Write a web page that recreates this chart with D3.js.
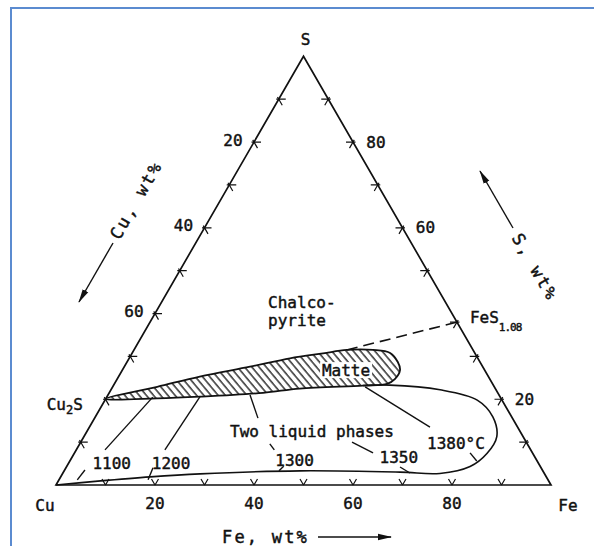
<!DOCTYPE html>
<html>
<head>
<meta charset="utf-8">
<script src="https://cdn.jsdelivr.net/npm/d3@7"></script>
<style>
  html, body { margin: 0; padding: 0; background: #fff; }
  svg { display: block; }
</style>
</head>
<body>
<div id="showBox"></div>
<script>
// all ternary points are [Fe wt%, S wt%], Cu is the remainder
const gridTicks = [10, 20, 30, 40, 50, 60, 70, 80, 90];
const feLabels = [20, 40, 60, 80];
const cuLabels = [20, 40, 60];
const sLabels = [20, 60, 80];
const sTicks = [10, 20, 30, 50, 60, 70, 80, 90];

const cu2s = [0, 20.1];
const feS108 = [62, 38];

// hatched matte field, clockwise from Cu2S
const matte = [
    [0, 20.1], [9, 22.9], [16.4, 25.3], [25.4, 27.6], [32.5, 29.55], [38.6, 30.7],
    [43, 31.5], [48.3, 31.5], [52.1, 30.8], [54.7, 28.7], [56.1, 26.8], [56.1, 24.7],
    [55.1, 23.6], [50.4, 23.2], [38, 22.5], [31.1, 21.5], [18.8, 20.6], [10.3, 20.2]
];

// two liquid loop, from matte bottom round to Cu corner
const twoLiquid = [
    [50.4, 23.2], [55.8, 23.3], [66.5, 22.2], [75.2, 19.8], [80.3, 15.9], [83.4, 11.3],
    [83.4, 7.4], [81.5, 4.3], [76.2, 2.7], [68, 3.0], [47.7, 3.3], [27.8, 2.6],
    [18.1, 1.9], [8, 0.9], [0, 0]
];

const tieLine = [[43, 31.5], feS108];

const leaders = [
    [[9.3, 20.5], [5.8, 8.2]],
    [[3.7, 1.2], [4.1, 3.5]],
    [[18.8, 20.6], [17.9, 8.2]],
    [[18.0, 1.2], [17.6, 4.0]],
    [[28.7, 21.0], [33.0, 15.6]],
    [[38.4, 9.6], [40.0, 8.2]],
    [[43.4, 3.3], [43.8, 4.4]],
    [[54.8, 10.0], [60.3, 7.5]],
    [[67.4, 4.2], [70.1, 2.8]],
    [[51.0, 22.9], [68.8, 13.5]],
    [[79.9, 7.5], [82.2, 5.6]]
];

const fieldLabels = [
    {text: "1100", at: [8.7, 5.1], anchor: "middle"},
    {text: "1200", at: [20.7, 5.1], anchor: "middle"},
    {text: "1300", at: [45.3, 5.8], anchor: "middle"},
    {text: "1350", at: [66.0, 6.5], anchor: "middle"},
    {text: "1380°C", at: [75.9, 9.8], anchor: "middle"},
    {text: "Two liquid phases", at: [45.5, 12.4], anchor: "middle"},
    {text: "Chalco-", at: [21.5, 42.7], anchor: "start"},
    {text: "pyrite", at: [23.6, 38.5], anchor: "start"}
];
const matteLabel = {text: "Matte", at: [45.2, 26.8]};

const W = 594, H = 546;
const CU_X = 56, FE_X = 551, BASE_Y = 485;
const TRI_H = (FE_X - CU_X) * Math.sqrt(3) / 2;
const FONT = "'DejaVu Sans Mono', monospace";
const INK = "#111";

const x = d3.scaleLinear().domain([0, 100]).range([CU_X, FE_X]);
const y = d3.scaleLinear().domain([0, 100]).range([BASE_Y, BASE_Y - TRI_H]);
const project = ([fe, s]) => [x(fe + s / 2), y(s)];
const line = d3.line().x(d => project(d)[0]).y(d => project(d)[1]);

const svg = d3.select("#showBox").append("svg")
    .attr("width", W).attr("height", H)
    .attr("font-family", FONT)
    .attr("font-size", 16);

const defs = svg.append("defs");
defs.append("pattern")
    .attr("id", "hatch")
    .attr("patternUnits", "userSpaceOnUse")
    .attr("width", 5.5).attr("height", 5.5)
    .attr("patternTransform", "rotate(-40)")
    .append("line")
    .attr("x1", 1).attr("y1", 0).attr("x2", 1).attr("y2", 5.5)
    .attr("stroke", INK).attr("stroke-width", 1.3);
defs.append("marker")
    .attr("id", "arrow")
    .attr("markerUnits", "userSpaceOnUse")
    .attr("viewBox", "0 0 14 8")
    .attr("markerWidth", 14).attr("markerHeight", 8)
    .attr("refX", 13).attr("refY", 4)
    .attr("orient", "auto")
    .append("path")
    .attr("d", "M0,0.8L14,4L0,7.2Z")
    .attr("fill", INK);

// blue frame (top and left only)
svg.append("path")
    .attr("d", `M11,${H}V8H${W}`)
    .attr("fill", "none")
    .attr("stroke", "#5b8bd0")
    .attr("stroke-width", 2);

// matte field
svg.append("path")
    .datum(matte)
    .attr("d", d3.line().x(d => project(d)[0]).y(d => project(d)[1]).curve(d3.curveCatmullRomClosed.alpha(0.5)))
    .attr("fill", "url(#hatch)")
    .attr("stroke", INK)
    .attr("stroke-width", 1.8);

const [mx, my] = project(matteLabel.at);
svg.append("rect")
    .attr("x", mx - 26).attr("y", my - 8)
    .attr("width", 52).attr("height", 16)
    .attr("fill", "#fff");

// two liquid loop
svg.append("path")
    .datum(twoLiquid)
    .attr("d", d3.line().x(d => project(d)[0]).y(d => project(d)[1]).curve(d3.curveCatmullRom.alpha(0.5)))
    .attr("fill", "none")
    .attr("stroke", INK)
    .attr("stroke-width", 1.6);

// tie line to FeS1.08
svg.append("path")
    .datum(tieLine)
    .attr("d", line)
    .attr("fill", "none")
    .attr("stroke", INK)
    .attr("stroke-width", 1.6)
    .attr("stroke-dasharray", "11,6");

// leaders
svg.append("g")
    .selectAll("path")
    .data(leaders)
    .join("path")
    .attr("d", line)
    .attr("stroke", INK)
    .attr("stroke-width", 1.4);

// triangle
svg.append("path")
    .datum([[0, 0], [100, 0], [0, 100]])
    .attr("d", d3.line().x(d => project(d)[0]).y(d => project(d)[1]).curve(d3.curveLinearClosed))
    .attr("fill", "none")
    .attr("stroke", INK)
    .attr("stroke-width", 1.7);

// ticks drawn along the two inner grid directions
const r3 = Math.sqrt(3) / 2;
function tick(p, dirs, back) {
    const [px, py] = project(p);
    return dirs.map(([dx, dy]) =>
        `M${px - dx * back},${py - dy * back}L${px + dx * 7},${py + dy * 7}`).join("");
}
const ticks = svg.append("g")
    .attr("stroke", INK)
    .attr("stroke-width", 1.2)
    .attr("fill", "none");
ticks.selectAll(".fe").data(gridTicks).join("path")
    .attr("class", "fe")
    .attr("d", v => tick([v, 0], [[-0.5, -r3], [0.5, -r3]], 0));
ticks.selectAll(".cu").data(gridTicks).join("path")
    .attr("class", "cu")
    .attr("d", v => tick([0, 100 - v], [[1, 0], [0.5, r3]], 2.5));
ticks.selectAll(".s").data(sTicks.concat([feS108[1]])).join("path")
    .attr("class", "s")
    .attr("d", v => tick([100 - v, v], [[-1, 0], [-0.5, r3]], 2.5));

// all text a bit heavier, like the scanned lettering
const txt = svg.append("g")
    .attr("fill", INK)
    .attr("stroke", INK)
    .attr("stroke-width", 0.45);

txt.append("text")
    .attr("x", mx).attr("y", my).attr("dy", "0.35em")
    .attr("text-anchor", "middle")
    .text(matteLabel.text);

// tick labels
txt.selectAll(".fl").data(feLabels).join("text")
    .attr("class", "fl")
    .attr("text-anchor", "middle")
    .attr("x", v => project([v, 0])[0])
    .attr("y", v => project([v, 0])[1] + 18)
    .attr("dy", "0.35em")
    .text(d => d);
txt.selectAll(".cl").data(cuLabels).join("text")
    .attr("class", "cl")
    .attr("text-anchor", "middle")
    .attr("x", v => project([0, 100 - v])[0] - 21)
    .attr("y", v => project([0, 100 - v])[1] - 2)
    .attr("dy", "0.35em")
    .text(d => d);
txt.selectAll(".sl").data(sLabels).join("text")
    .attr("class", "sl")
    .attr("text-anchor", "middle")
    .attr("x", v => project([100 - v, v])[0] + 23)
    .attr("y", v => project([100 - v, v])[1])
    .attr("dy", "0.35em")
    .text(d => d);

// corner labels
const corner = (p, dx, dy, t) => txt.append("text")
    .attr("x", project(p)[0] + dx).attr("y", project(p)[1] + dy)
    .attr("dy", "0.35em").attr("text-anchor", "middle").text(t);
corner([0, 100], 2, -17, "S");
corner([0, 0], -11, 20, "Cu");
corner([100, 0], 17, 20, "Fe");

const c2 = txt.append("text")
    .attr("x", project(cu2s)[0] - 59).attr("y", project(cu2s)[1] + 6)
    .attr("dy", "0.35em");
c2.append("tspan").text("Cu");
c2.append("tspan").attr("font-size", 12).attr("dy", 4).text("2");
c2.append("tspan").attr("dy", -4).text("S");

const fs = txt.append("text")
    .attr("x", project(feS108)[0] + 13).attr("y", project(feS108)[1] - 5)
    .attr("dy", "0.35em");
fs.append("tspan").text("FeS");
fs.append("tspan").attr("font-size", 11).attr("dy", 8).attr("letter-spacing", -1).text("1.08");

// field labels
txt.selectAll(".lab")
    .data(fieldLabels)
    .join("text")
    .attr("class", "lab")
    .attr("x", d => project(d.at)[0])
    .attr("y", d => project(d.at)[1])
    .attr("dy", "0.35em")
    .attr("text-anchor", d => d.anchor)
    .text(d => d.text);

// axis titles with arrows
const title = (tr, t) => txt.append("text")
    .attr("transform", tr)
    .attr("font-size", 17)
    .attr("letter-spacing", 2.2)
    .attr("dy", "0.35em")
    .text(t);
title("translate(136,200) rotate(-60)", "Cu, wt%").attr("text-anchor", "middle");
title("translate(535,267) rotate(60)", "S, wt%").attr("text-anchor", "middle");
title("translate(222,537)", "Fe, wt%");

const arrows = [
    [[113, 243], [79, 302]],
    [[513, 228], [480, 171]],
    [[318, 537], [391, 537]]
];
svg.append("g")
    .selectAll("line")
    .data(arrows)
    .join("line")
    .attr("x1", d => d[0][0]).attr("y1", d => d[0][1])
    .attr("x2", d => d[1][0]).attr("y2", d => d[1][1])
    .attr("stroke", INK).attr("stroke-width", 1.4)
    .attr("marker-end", "url(#arrow)");
</script>
</body>
</html>
